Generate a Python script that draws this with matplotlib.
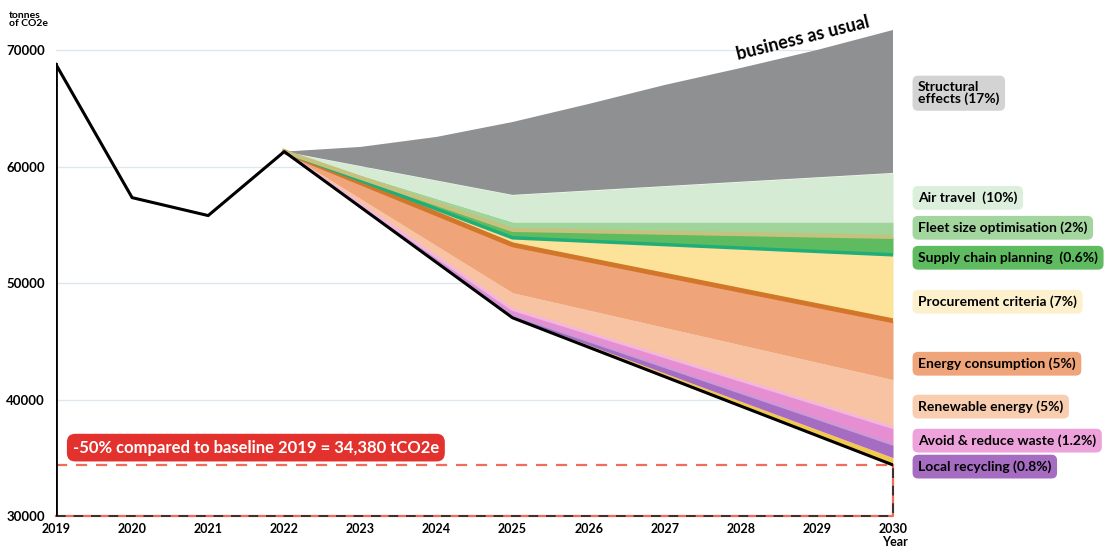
import numpy as np
import matplotlib
matplotlib.use('Agg')
import matplotlib.pyplot as plt

# --- data (tCO2e) ---
hist_years = [2019, 2020, 2021, 2022]
hist_emissions = [68760, 57330, 55790, 61280]

plan_years = [2022, 2025, 2030]
plan_path = [61280, 47015, 34380]

bau_years = [2022, 2023, 2024, 2025, 2026, 2027, 2028, 2029, 2030]
bau = [61280, 61680, 62540, 63820, 65370, 67000, 68460, 70000, 71720]

# reduction layers, bottom -> top, thickness at plan_years
other_strip = [0, 80, 630]
local_recycling = [0, 130, 1115]
avoid_waste = [0, 500, 1455]
renewable = [0, 1435, 4120]
energy = [0, 4120, 5060]
procurement = [0, 600, 5660]
supply_chain = [0, 680, 1540]
fleet = [0, 690, 1290]
air_travel = [0, 2315, 4200]

target = 34380
year_ticks = list(range(2019, 2031))
y_ticks = [30000, 40000, 50000, 60000, 70000]

labels = ['Structural\neffects (17%)', 'Air travel  (10%)', 'Fleet size optimisation (2%)',
          'Supply chain planning  (0.6%)', 'Procurement criteria (7%)', 'Energy consumption (5%)',
          'Renewable energy (5%)', 'Avoid & reduce waste (1.2%)', 'Local recycling (0.8%)']

#%% figure
plt.rcParams['font.family'] = ['Lato', 'DejaVu Sans']
fig = plt.figure(figsize=(11.11, 5.5), dpi=100)
ax = fig.add_axes([0.0504, 0.0618, 0.7534, 0.8896])
ax.set_xlim(2019, 2030)
ax.set_ylim(30000, 72000)

for yt in y_ticks:
    ax.axhline(yt, color='#dde7ec', lw=1, zorder=0)

layers = [other_strip, local_recycling, avoid_waste, renewable, energy,
          procurement, supply_chain, fleet, air_travel]
colors = ['#f2c94c', '#a56cc1', '#e58fd2', '#f7c3a3', '#f0a479',
          '#fde39a', '#5fbb5f', '#9fd49a', '#d5ebd3']
bottom = np.array(plan_path, dtype=float)
tops = []
for lay, c in zip(layers, colors):
    top = bottom + np.array(lay)
    ax.fill_between(plan_years, bottom, top, color=c, lw=0, zorder=2)
    tops.append(top)
    bottom = top

# structural effects: from air travel top up to business as usual
ax.fill(np.r_[bau_years, plan_years[::-1]], np.r_[bau, bottom[::-1]],
        color='#8e9091', lw=0, zorder=2)

# thin accent strips on boundaries
ax.plot(plan_years, tops[1], color='#c99ad8', lw=1.5, zorder=3)
ax.plot(plan_years, tops[2], color='#f3b6de', lw=2, zorder=3)
ax.plot(plan_years, tops[4], color='#d2772a', lw=3.5, zorder=3)
ax.plot(plan_years, tops[5], color='#1fae7a', lw=2.5, zorder=3)
ax.plot(plan_years, tops[6], color='#c6c27e', lw=3, zorder=3)

# emissions path
ax.plot(hist_years + plan_years[1:], hist_emissions + plan_path[1:], color='black', lw=2.2, zorder=5)
ax.plot([2019, 2019], [30000, hist_emissions[0]], color='black', lw=2, zorder=5)

# target box
red = '#ef6b5b'
ax.plot([2019, 2030], [target, target], color=red, lw=1.6, ls=(0, (5, 4)), zorder=4)
ax.plot([2019, 2030, 2030], [30000, 30000, target], color=red, lw=1.6, zorder=4, clip_on=False)
ax.plot([2019, 2030, 2030], [30000, 30000, target], color='#333333', lw=1.4, ls=(0, (5, 4)),
        zorder=4, clip_on=False)
ax.text(2019.22, 35870, '-50% compared to baseline 2019 = 34,380 tCO2e', color='white',
        fontsize=12, fontweight='bold', va='center', ha='left', zorder=6,
        bbox=dict(boxstyle='round,pad=0.35,rounding_size=0.5', fc='#e3312d', ec='none'))

ax.text(2028.82, 71000, 'business as usual', rotation=14, fontsize=13, fontweight='bold',
        ha='center', va='center', zorder=6)

# right-hand labels
label_y = [66300, 57310, 54740, 52170, 48390, 43070, 39390, 36470, 34240]
box_colors = ['#d3d3d3', '#dcefdc', '#a3d69e', '#5fbb5f', '#fdf0cc', '#f0a479', '#f9cdb0',
              '#eda2dc', '#a56cc1']
for lab, yy, bc in zip(labels, label_y, box_colors):
    ax.text(2030.33, yy, lab, fontsize=10, fontweight='bold', ha='left', va='center',
            linespacing=0.95, clip_on=False,
            bbox=dict(boxstyle='round,pad=0.4,rounding_size=0.4', fc=bc, ec='none'))

# axes styling
for s in ax.spines.values():
    s.set_visible(False)
ax.set_xticks(year_ticks)
ax.set_xticklabels([str(y) for y in year_ticks], fontsize=9, fontweight='bold')
ax.set_yticks(y_ticks)
ax.set_yticklabels([str(y) for y in y_ticks], fontsize=9.5, fontweight='bold')
ax.tick_params(length=0, pad=5)
ax.tick_params(axis='y', pad=8)
fig.text(0.008, 0.98, 'tonnes\nof CO2e', fontsize=7.5, fontweight='bold', va='top', ha='left',
         linespacing=0.9)
fig.text(0.817, 0.003, 'Year', fontsize=9, fontweight='bold', ha='right', va='bottom')

fig.savefig('out.png', dpi=100)
